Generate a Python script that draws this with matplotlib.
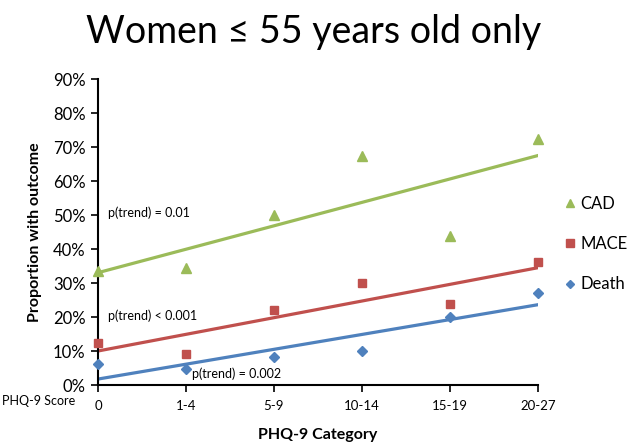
import numpy as np
import matplotlib.pyplot as plt
from matplotlib.ticker import PercentFormatter

# PHQ-9 categories and proportions (%)
categories = ['0', '1-4', '5-9', '10-14', '15-19', '20-27']
cad = [33.5, 34.3, 50.0, 67.4, 43.9, 72.5]
mace = [12.4, 9.0, 22.1, 29.9, 23.9, 36.2]
death = [6.1, 4.6, 8.3, 10.0, 19.9, 27.2]
pvals = ['p(trend) = 0.01', 'p(trend) < 0.001', 'p(trend) = 0.002']

green = '#9BBB59'
red = '#C0504D'
blue = '#4F81BD'

plt.rcParams['font.family'] = ['Lato', 'DejaVu Sans']

fig = plt.figure(figsize=(6.28, 4.42), dpi=100)
ax = fig.add_axes([98/628, 1-385/442, 440/628, 306/442])

x = np.arange(len(categories))
series = [('CAD', cad, green, '^', 7),
          ('MACE', mace, red, 's', 6),
          ('Death', death, blue, 'D', 5)]
for name, vals, col, mk, ms in series:
    # linear trendline, as in the spreadsheet original
    k, b = np.polyfit(x, vals, 1)
    ax.plot(x, k*x + b, color=col, lw=2.3, zorder=2)
    ax.plot(x, vals, ls='none', marker=mk, ms=ms, color=col, label=name,
            zorder=3, clip_on=False)

ax.set_xlim(0, 5)
ax.set_ylim(0, 90)
ax.set_yticks(np.arange(0, 91, 10))
ax.yaxis.set_major_formatter(PercentFormatter(decimals=0))
ax.set_xticks(x)
ax.set_xticklabels(categories)
ax.tick_params(axis='y', labelsize=12, direction='out', length=5, width=1.2, pad=4)
ax.tick_params(axis='x', labelsize=9.5, direction='out', length=5, width=1.2, pad=6)
for s in ['top', 'right']:
    ax.spines[s].set_visible(False)
for s in ['left', 'bottom']:
    ax.spines[s].set_linewidth(1.5)

ax.set_ylabel('Proportion with outcome', fontsize=11.5, fontweight='bold', labelpad=8)
ax.set_xlabel('PHQ-9 Category', fontsize=11.5, fontweight='bold', labelpad=11)

fig.text(2/628, 1-401/442, 'PHQ-9 Score', fontsize=9, va='center', ha='left')

ax.text(0.11, 50.6, pvals[0], fontsize=9, va='center')
ax.text(0.11, 20.3, pvals[1], fontsize=9, va='center')
ax.text(1.07, 3.2, pvals[2], fontsize=9, va='center')

fig.text(0.5, 1-43/442, 'Women \u2264 55 years old only', fontsize=27,
         ha='center', va='baseline')

ax.legend(loc='upper left', bbox_to_anchor=(562/628, 1-196/442),
          bbox_transform=fig.transFigure, frameon=False, fontsize=12,
          handletextpad=0.1, labelspacing=1.45, borderaxespad=0,
          borderpad=0, handlelength=1.0, markerscale=0.85)

fig.savefig('out.png', dpi=100)
